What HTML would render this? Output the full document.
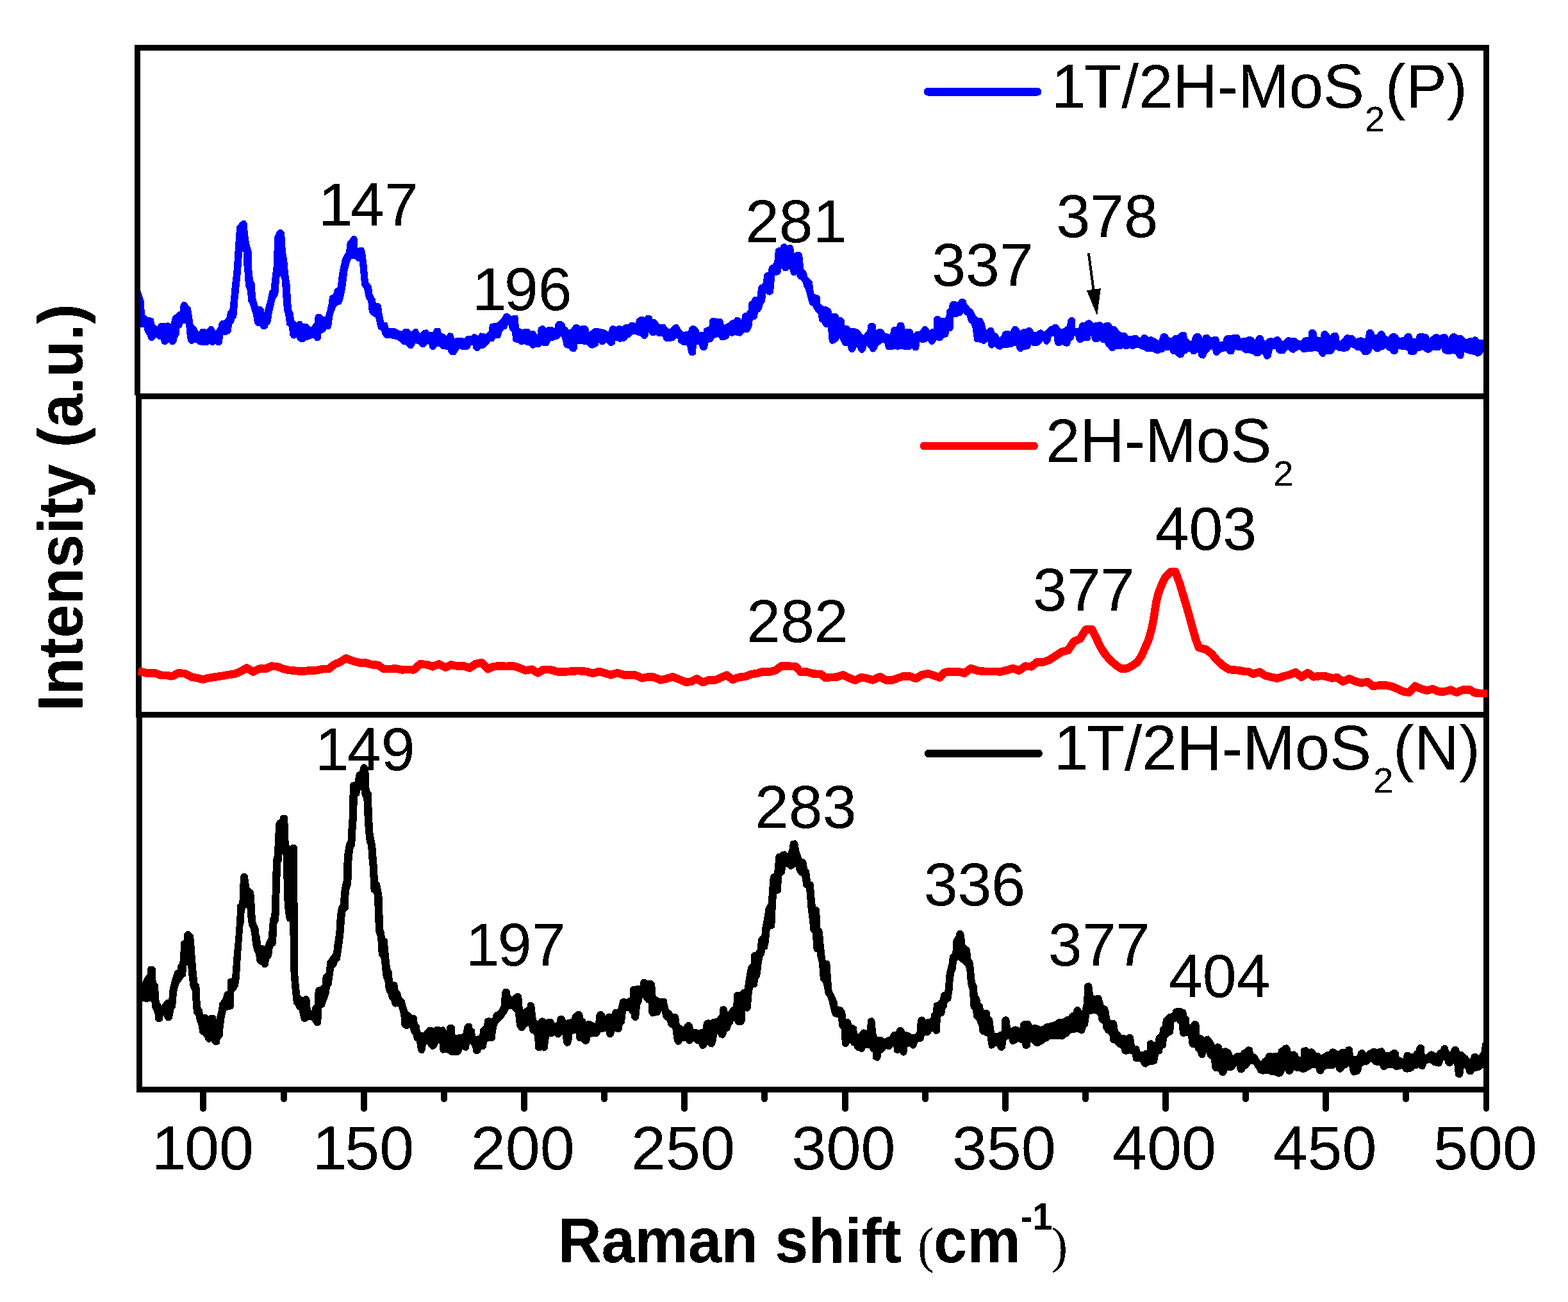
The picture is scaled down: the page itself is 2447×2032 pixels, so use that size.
<!DOCTYPE html>
<html lang="en"><head><meta charset="utf-8"><title>Raman spectra</title>
<style>
html,body{margin:0;padding:0;background:#fff;overflow:hidden;}
svg{display:block;}
text{font-family:"Liberation Sans",sans-serif;fill:#000;}
.b{font-weight:bold;}
.s{font-family:"Liberation Serif",serif;font-weight:normal;}
</style></head>
<body>
<svg width="2447" height="2032" viewBox="0 0 2447 2032">
<defs><filter id="crisp" x="0" y="0" width="2447" height="2032" filterUnits="userSpaceOnUse" color-interpolation-filters="sRGB"><feComponentTransfer><feFuncA type="discrete" tableValues="0 0 1 1 1"/></feComponentTransfer></filter></defs>
<rect x="0" y="0" width="2447" height="2032" fill="#fff"/>
<g stroke="none" shape-rendering="crispEdges">
<polygon fill="#0000ff" points="218.7,453.3 219.2,453.3 222.5,463.3 225,470 225.8,490 230.8,495 234.2,495 240,497.5 240.8,505 245,509.2 249.2,504.2 257.5,504.2 262.5,503.3 266.7,505 269.2,494.2 273.3,490.8 277.5,486.7 280.8,485.8 281.7,475 285,470.8 290,470.8 294.2,476.7 297.5,480 299.2,488.3 301.7,506.7 306.7,511.7 310,518.3 313.3,512.5 320,512.5 322.5,514.2 326.7,509.2 331.7,509.2 335,513.3 336.7,515.8 340.8,510 341.7,503.3 345.8,500 350,500 353.3,496.7 355,486.7 358.3,482.5 360,466.7 361.7,446.7 364.2,426.7 365.8,403.3 367.5,376.7 369.2,353.3 375,346.7 378.3,344.2 382.5,344.2 385.8,348.3 386.7,363.3 389.2,380 392.5,391.7 393.3,420 395,436.7 397.5,441.7 399.2,465 402.5,476.7 403.3,478.3 408.3,478.3 411.7,482.5 412.5,486.7 415,476.7 417.5,468.3 420,455 422.5,451.7 425,428.3 427,413.3 427.5,391.7 428.3,370 431.7,361.7 435,358.3 440,358.3 443.7,361.7 445,375 445.8,391.7 448.3,406.7 450,426.7 452.5,443.3 454.2,470 455,482.5 457.5,488.3 459.2,500 462.5,503.3 465.8,500.8 470,500.8 473.3,505 480,505 483.3,509.2 485.8,510 490.8,503.3 491.7,493.3 495,490 500,490 504.2,494.2 507.5,494.2 510.8,482.5 512.5,475 514.2,461.7 520,459.2 521.7,451.7 526.7,448.3 529.2,426.7 533.3,406.7 535.8,400 540,393.3 541.7,378.3 545.8,373.3 550,367.5 554.2,367.5 557.5,371.7 558.3,386.7 564.2,385.8 567.5,386.7 570,393.3 572.5,413.3 575,440 580,446.7 581.7,460 585.8,466.7 586.7,472.5 591.7,472.5 595,476.7 596.7,490 599.2,502.5 604.2,503.3 606.7,511.7 615,511.7 621.7,515 626.7,516.7 631.7,512.5 636.7,512.5 641.7,517.5 645.8,513.3 651.7,513.3 655,520 660,515 666.7,514.2 670,518.3 675.8,518.3 678.3,511.7 686.7,511.7 689.2,520 694.2,521.7 696.7,524.2 700,519.2 706.7,520 709.2,528.3 713.3,526.7 721.7,526.7 724.2,528.3 728.3,524.2 735,524.2 738.3,520.8 742.5,521.7 745.8,524.2 749.2,519.2 755,520 758.3,521.7 762.5,516.7 764.2,505.8 770,504.2 776.7,503.3 781.7,498.3 786.7,490 791.7,488.3 798.3,493.3 800.8,491.7 808.3,492.5 810,511.7 815,514.2 819.2,512.5 825,512.5 827.5,515.8 833.3,515.8 836.7,519.2 838.7,522.5 839.7,511.7 844.2,508.3 848.3,508.3 852.5,511.7 855,510 862.5,510 865.3,512.5 866.7,505 870.8,500.8 875.8,500.8 880.8,504.2 882.5,509.2 885.8,511.7 888.3,515 891.7,512.5 895,507.5 898.3,505.8 901.7,506.3 905.8,508.8 910,508 915,508.3 918.3,511.7 919.2,518.3 923.3,515 927.5,512 933.3,512 937.5,513.3 943.3,513.8 947.5,516.7 950,517 950.8,511.7 955,508 959.2,508.3 961.7,510 964.2,508 968.3,508 970.8,509.2 975,506.3 980.8,505.8 984.2,502.8 989.2,502.8 991.7,504.2 993.3,498.3 998.3,494.2 1004.2,494.2 1005.8,495.3 1009.2,491.7 1014.2,491.7 1017.5,494.2 1018.3,498 1022.5,498 1026.7,501.7 1028.3,505.3 1031.7,506.3 1037.5,506.3 1040.8,510 1043.3,513 1045.8,512.5 1050,508.3 1053.3,506.3 1057.5,506.3 1060.8,510 1062,513.7 1066.7,518 1070.8,517 1074.2,517 1075.3,511.7 1079.2,508 1083.3,508 1087.5,510.8 1090.8,515 1091.3,518 1097.5,518 1098.3,513.3 1101.7,510.8 1106.3,510 1107.5,499.2 1110.8,495.8 1115.8,495.8 1118.7,497.5 1120.8,496.7 1125.8,497.5 1128.7,500.8 1130,507.5 1133.3,505 1137.5,503.3 1140.8,499.7 1145,499.2 1147.5,495.3 1152.5,494.7 1155.8,497.5 1157,500.8 1158,491.3 1161.7,488 1164.2,488 1167.5,484.2 1168,473.3 1170.8,469.7 1173,469.2 1174.2,465 1176.3,463.3 1181.7,463 1183,448.3 1185.8,444.7 1190,443 1191.3,436.7 1192.5,428.3 1195,425.3 1198.3,425 1199.7,417.5 1202,413.7 1205.3,413 1208.3,409.2 1209.2,395 1210.8,388.3 1214.2,386.3 1217.5,385.8 1219.2,381.7 1222.5,380 1225.3,380.3 1228.7,383 1230.8,382 1235.8,382.5 1238.3,385.8 1239.2,394.7 1242.5,393.3 1249.2,393.3 1252,396.7 1253.3,408.3 1254.2,420 1257.5,423 1259.7,428.3 1260.3,431.7 1267.5,438.7 1268.7,446.7 1270.3,458.3 1273.3,459.7 1277,460 1279.7,463.3 1280.3,473.3 1282,475.8 1285,477.5 1290,478.3 1295.8,481.3 1297.5,485 1298.3,489.2 1305.8,489.2 1308.3,491.7 1309.2,495 1314.2,495.3 1317.5,498.7 1318.7,508.3 1321.7,508 1324.2,508.3 1327.5,511.7 1333.3,512 1340,514.2 1343.3,517.5 1345,520.8 1348,523.3 1350,519.2 1353.3,516.7 1354.2,507.5 1357.5,504.2 1363.3,504.2 1366.7,507.5 1367.5,515 1370.8,513.3 1375.8,513 1379.2,515.8 1381.7,520 1386.7,520.8 1389.2,522.5 1390,514.2 1393.3,510.3 1399.2,510 1400,505.3 1403.3,502.5 1407.5,502.5 1411.3,506.3 1412,513 1421.7,513 1424.7,516.3 1425,520.8 1429.2,517.5 1434.2,517 1437,515 1438.3,511.7 1441.7,509.2 1445.8,509.2 1449.2,512.5 1450.8,515.8 1453.3,513.3 1456.7,512.5 1457.5,495.8 1460.8,492.5 1465.3,492.5 1468.7,495.8 1474.2,495.8 1476.3,495 1477,484.2 1480.8,480.8 1482,473.3 1485,470 1490.8,470 1494.2,471.3 1497.5,467.5 1500.8,465.8 1504.2,466.3 1507.5,469.2 1508.7,474.2 1514.2,480.3 1516.7,482 1519.2,485 1521.7,490.8 1524.2,493.7 1526.7,495.8 1530.8,495.8 1533.7,498.3 1536.7,504.2 1538.3,511.7 1539.2,515 1543,511.3 1547.5,510.8 1550.8,513 1552.5,519.2 1555.8,520 1558.3,523.3 1560,526.7 1562.5,524.2 1565,518 1568.3,516.3 1573.3,516.3 1577,516.7 1578.7,512.5 1581.7,509.2 1586.7,509.2 1590,512 1592,515.8 1596.7,513.3 1600.8,513 1604.2,510.8 1608.3,510.8 1611.3,513.7 1613,517.5 1618.3,517.5 1621.7,514.7 1625,514.2 1628.7,516.7 1630.8,516.7 1636.7,510.3 1639.2,508.7 1642.5,508.3 1645,505.8 1649.2,505.8 1652.5,509.2 1655,512.5 1657.5,513.3 1661.7,510.8 1665,508.3 1666.3,499.2 1669.7,495.3 1674.7,495.3 1677.5,498.3 1678.3,511.7 1683.3,511.7 1684.2,506.3 1687.5,503 1693,502.5 1695.8,499.7 1700.8,499.2 1704.2,501.7 1706.3,504.2 1710,502.5 1714.2,502.5 1717.5,502 1720.8,504.2 1722.5,505.3 1725.8,502.5 1730.8,502.5 1734.2,505.3 1735.8,508.7 1740.8,509.2 1744.2,512.5 1745.8,515.8 1749.2,518.3 1750.8,519.2 1756.7,519.2 1760,522.5 1760.8,524.2 1765.8,524.2 1770,522.5 1774.2,522.5 1777.5,525.8 1780,526.7 1782.5,522.5 1786.7,521.7 1790.8,524.2 1792.5,525.8 1797.5,525 1801.7,527.5 1805.8,529.7 1808.3,532 1810.3,525.8 1811.3,522.5 1814.2,520.3 1819.2,520.3 1822.5,523.3 1825,526.7 1829.2,526.7 1832.5,523.3 1838.3,522.5 1841.3,519.2 1845,517.5 1849.2,517.5 1851.7,520 1853,527.5 1856.7,531.7 1859.2,531.7 1861.3,525 1863.3,521.7 1866.7,520.3 1871.7,520.3 1875,523.3 1876.3,527.5 1877.5,524.2 1880.8,521.7 1885,521.7 1888.3,524.7 1890,526.7 1894.2,525 1899.2,525 1902,527.5 1903.3,532.5 1908.3,532.5 1910.3,525.8 1914.2,523.3 1919.2,523.3 1922.5,522.5 1925.8,521.7 1931.7,521.7 1935,524.7 1936.3,528.3 1940,526.7 1945,526.7 1948.3,525 1952.5,525 1956.7,527.5 1958.3,530.8 1960.3,525.8 1963.3,523 1968.3,523 1971.7,525.8 1973,530.8 1975,532 1978.3,528.3 1983.3,526.7 1987.5,528 1990.8,525.3 1995.8,525.3 1999.2,528.3 2000.8,532 2003.3,531.7 2006.7,527.5 2009.2,526.3 2016.7,526.7 2022.5,527.5 2025,530 2030,531.7 2033.3,527.5 2036.7,526.3 2041.7,525.8 2042.5,517.5 2045.8,514.2 2050.8,514.2 2054.2,517.5 2055.8,525.8 2060.8,525.8 2061.7,519.2 2065,516.3 2070,516.3 2073.3,519.2 2075.8,523.7 2078.3,520 2081.7,519.2 2086.7,519.2 2089.2,522.5 2090.8,532.5 2095,528.3 2099.2,523.3 2102.5,522 2106.7,523 2111.7,523.3 2115,526.3 2116.7,529.2 2119.2,526.7 2124.2,526.3 2128.3,527.5 2130.3,528.3 2132.5,517.5 2135.8,514.2 2140.8,514.2 2144.2,517.5 2145,521.7 2149.2,521.7 2150.8,518.3 2154.2,516.3 2158.3,516.3 2161.7,520 2162.5,523.3 2166.7,525.8 2169.2,521.7 2172.5,520 2176.7,520 2180.8,522.5 2184.2,526.7 2190,526.3 2192.5,522.5 2195.8,520 2200,520 2203.3,523 2205,528 2209.7,528 2210.8,522.5 2214.2,520 2220,520 2223.3,520.8 2226.7,520.8 2229.7,524.2 2230.8,527.5 2235,524.2 2239.2,521.3 2243.3,521.3 2246.7,523 2251.7,521.3 2256.7,521.3 2259.7,524.2 2260.3,527.5 2263.3,522.5 2266.7,520 2270.8,520.3 2274.2,522.5 2281.7,523 2285.3,526.7 2288,529.7 2291.7,527.5 2298.3,526.7 2300.8,525.3 2305,525.8 2308.3,530 2315,530 2315,549.7 2313,552.5 2310,555.3 2305.8,556.7 2303.3,555.8 2300.8,553.7 2295,553.3 2290,551.7 2285.3,549.7 2284.2,556.7 2281.7,559.7 2275.8,559.7 2273,556.7 2272,552.5 2269.2,552.5 2265.8,551.7 2263.3,553.3 2257.5,553.3 2254.2,551.7 2250.8,549.7 2249.7,543.3 2248.3,545.8 2245,547.5 2239.2,547 2237.5,545.8 2235.3,547.5 2232.5,550.3 2227.5,550.8 2223.3,548.7 2220,546.3 2216.7,547.5 2212.5,547.5 2211.3,550.8 2208.3,553.7 2200,553.7 2197,551.7 2196.3,547 2192.5,546.3 2187.5,545.8 2182.5,545 2181.7,549.7 2179.2,552.5 2174.2,553 2171.3,552 2169.2,548.7 2167.5,548 2164.2,545.8 2162.5,543.3 2160.8,545.3 2155.8,546.3 2152.5,548.7 2149.2,549.7 2145.8,548.3 2143.7,545.8 2141.7,544.2 2140.8,547.5 2138.3,551.7 2134.2,553.7 2126.7,553.7 2124.2,550 2121.7,547.5 2116.3,547 2114.2,544.2 2108.3,542 2107,544.2 2104.2,547.5 2099.2,548.7 2089.2,548.3 2085.8,545.8 2083.3,546.3 2082,549.7 2078.3,552.5 2070,552.5 2066.7,556.7 2061.7,556.7 2058.3,553.3 2057,548.7 2053.3,548.3 2050,547.5 2047.5,549.2 2040,549.2 2037.5,550 2032.5,549.7 2029.2,546.7 2026.7,545.8 2022.5,548.3 2019.2,550.8 2015,550.3 2012.5,547.5 2010,545.8 2007.5,548.3 2004.2,552 2000.8,552.5 1998.3,551.7 1995,551.7 1992,549.2 1990.3,545 1986.3,545.3 1985,549.2 1983.7,557 1980.8,560.3 1975.3,560.8 1972,557.5 1970.8,552.5 1968.3,553.3 1965,556.3 1958,555.8 1955.8,553 1950.8,552 1948.3,550.8 1944.2,551.7 1940.8,550 1938.3,547.5 1931.7,547 1927.5,545.8 1926.3,550 1924.2,553 1918.3,553.3 1915.8,551.7 1914.2,549.2 1912.5,547.5 1910,549.2 1905.3,549.7 1904.2,551.7 1900.8,554.7 1895.8,554.7 1893,551.7 1892,545.3 1888.7,545.8 1887.5,548 1883.3,552.5 1882,556.7 1879.2,559.7 1873.3,559.2 1870.3,555.8 1869.7,550.8 1868.3,550 1865.8,552.5 1862.5,553.3 1859.2,552.5 1857.5,550 1855.8,548.3 1852.5,551.3 1848.7,552.5 1848,555 1845,558 1840.8,558.7 1837.5,556.7 1834.2,553.3 1830,553.3 1827,550.8 1825.3,546.7 1818.3,546.7 1815.8,549.7 1811.7,550 1808.3,551.7 1805,552 1801.7,550.8 1798.3,548.7 1788.3,548.7 1784.2,545.8 1779.2,545 1776.7,542.5 1774.2,542.5 1770.8,544.2 1767.5,545.3 1764.2,544.2 1762.5,543.3 1759.2,545.3 1755,545.3 1752.5,543.3 1750,545 1741.7,545 1738.3,547.5 1733.3,547.5 1730.8,545.8 1729.2,542.5 1725.8,540 1723.3,535 1718.7,534.7 1716.7,532 1713.3,534.2 1707.5,534.2 1704.2,530.3 1702.5,523.7 1701.7,529.2 1700,532 1690.8,532.5 1687.5,535.3 1683.3,535.3 1680,532 1678.7,525.8 1677,523.3 1675.3,529.7 1671.3,532.5 1670.3,537.5 1668.3,540 1664.2,540.8 1660,540 1658,538 1655,539.7 1649.2,539.7 1645.8,535.8 1644.7,525 1640.8,525 1640,530.3 1638.3,534.7 1635,537.5 1632,537.5 1629.2,535.8 1627.5,531.7 1625.8,535 1623.3,537.5 1618.3,540.3 1611.7,540.3 1609.2,538 1608,542.5 1605.8,545.3 1597.5,545.8 1595,548.7 1590,548.7 1586.7,545 1585.8,540 1582.5,539.7 1580,541.7 1575,541.7 1573.3,543 1565,543.3 1561.7,545.8 1556.7,545.3 1554.2,542.5 1551.7,541.3 1549.2,543.7 1545,543.3 1542,539.2 1541.3,531.7 1540,534.2 1536.7,537 1533.3,537 1530.8,534.7 1523,534.2 1520.3,531.7 1519.2,523.3 1517.5,511.7 1515.8,506.3 1512,503.3 1510.3,499.2 1508.7,493.3 1505,490.8 1503.3,487.5 1502.5,490 1500,493 1496.7,493 1493.3,494.7 1488.3,495.3 1487.5,513.3 1485.3,516.7 1481.3,517.5 1480.3,522.5 1478.3,526.3 1473.3,526.7 1472,528.7 1470,531.3 1465.8,532 1461.3,531.3 1459.2,535 1455.8,538 1452.5,538 1449.7,535.8 1448,531.7 1445,534.2 1440.8,535 1435.3,534.2 1434.2,544.2 1431.7,547 1425.8,547 1423.3,543.3 1420.8,545.8 1410.8,545.8 1408,544.7 1405,545.3 1400,545.8 1395.8,544.7 1391.7,546.3 1384.2,546.3 1382,543.3 1380,535 1376.7,535 1373.3,538 1370,540 1368.7,545 1365,549.2 1360.8,549.7 1358.3,547.5 1355.8,543.3 1352.5,540.3 1350.8,547 1346.7,550.8 1343,550.8 1340,548 1338.3,543.3 1336.3,541.7 1335,546.7 1331.7,549.7 1327,549.7 1323.7,545.8 1323,540.3 1318.3,540 1315,538.3 1312,532.5 1310.3,527.5 1308.3,531.7 1305.8,533.3 1302.5,536.3 1297.5,536.7 1293.7,533.3 1293,521.7 1291.7,510.8 1287.5,510.8 1284.2,507.5 1283,504.2 1280.8,503 1278,500 1276.7,489.7 1273.3,486.7 1270,482.5 1268.7,478.3 1266.7,477.5 1263.7,475.8 1261.3,468.7 1259.2,460 1256.7,450.8 1254.2,447.5 1253,441.7 1249.7,436.7 1246.7,435.8 1243.7,432 1243,426.7 1241.7,430.3 1236.7,430 1233.7,426.7 1233,420.8 1231.7,420.3 1228.3,423 1222.5,422.5 1219.2,418.7 1218.7,425.3 1215,429.2 1209.2,430 1208,446.7 1206.7,457.5 1202,460.8 1198.3,460.3 1195,457.5 1194.7,465 1193.3,472 1190.3,475.8 1189.2,482 1185.8,486.7 1183,488.3 1181.7,495.8 1179.2,498.7 1174.7,499.2 1173.7,508.3 1171.3,515 1168.3,518.7 1160.8,519.2 1158.7,522.5 1155.8,524.7 1150,524.2 1148,522.5 1143.3,524.7 1138.3,524.2 1137,528 1134.2,529.2 1130,531.3 1125,531.3 1122.5,528.3 1120.3,525.3 1118.3,526.7 1114.2,528 1113,531.3 1110,534.2 1105,534.7 1104.2,543.3 1100.8,546.7 1095,546.7 1092,543.3 1090.8,537.5 1087,537.5 1085.8,552.5 1083.3,554.7 1077.5,554.7 1075,552.5 1073.3,546.7 1072,539.2 1066.7,539.2 1063.3,538 1058.3,533.7 1057.5,528.7 1055,528 1051.7,531.7 1045,533 1039.2,533 1035.3,530.3 1034.2,525.3 1026.7,524.7 1023.3,522.5 1021.7,523.7 1016.7,523.7 1014.2,521.7 1012,518.7 1011.3,525.8 1007.5,528.7 1003.3,528.7 1000.8,526.7 999.2,524.2 993.3,523.3 991.7,521.7 987.5,521.7 985.8,523.3 983.3,526.7 980,526.7 978.3,530.3 973.3,533.3 965.8,533.7 964.2,532.5 960.3,531.7 959.7,536.7 955.8,539.7 951.7,540 949.2,538 946.7,535 945,535.3 941.7,538.3 937.5,538.3 934.2,535 933.7,538.3 931.7,540.8 925,543.7 920.8,543.3 917.5,540 915,538 910.8,538 908.3,536.7 901.3,537.5 900.8,545 897.5,548.7 892.5,549.2 889.2,546.7 887.5,543.7 883.3,543.3 880,540.8 878.7,535 877,528.3 875.3,524.7 871.7,529.2 866.7,530.3 863.3,531.7 859.2,532.5 857,536.7 855,540.3 848.3,540.3 845.8,539.2 842.5,542.2 835,542.5 831.7,544.2 828.3,542.5 826.7,539.7 821.7,539.2 818.3,536.7 816.7,538.3 811.7,538.3 808.3,535 803.3,534.2 800,531.7 799.2,519.2 795,514.2 793.3,507.5 792.5,508.3 790.8,513.3 786.7,514.2 783.3,518.3 782.5,522.5 780,527.5 773.3,528.3 770,533.3 765,533.3 762.5,537.5 756.7,543.3 750.8,544.2 746.7,547.5 742.5,547.5 738.3,544.2 737.5,539.2 735,539.2 733.3,543.3 730,545.8 720.8,545.8 717.5,544.2 715,547.5 710.8,554.2 703.3,554.2 700,550.8 698.3,545.8 689.2,545 685.8,540.8 681.7,540.8 678.3,545.8 673.3,545.8 670,542.5 669.2,536.7 666.7,537.5 663.3,541.7 656.7,541.7 653.3,537.5 648.3,535.8 646.7,540 643.3,544.2 638.3,544.2 633.3,538.3 628.3,537.5 624.2,533.3 619.2,530 614.2,529.2 610,528.3 601.7,528.3 596.7,522.5 595,515.8 590,513.3 585.8,495 583.3,494.2 579.2,491.7 575.8,486.7 574.2,470 570.8,465 568.3,451.7 564.2,445 562.5,426.7 560.8,408.3 557.5,407.5 553.3,404.2 548.3,404.2 545.8,410 542.5,423.3 540.8,436.7 539.2,450 535.8,466.7 532.5,475 528.3,475.8 524.2,479.2 522.5,484.2 520,490 518.7,499.2 517,510 515,513.7 509.7,514.2 506.7,518.3 504.2,519.2 501.3,520.8 500.8,528.3 497.5,532 492.5,532 490,528.3 485.8,528.3 483.3,530.3 477.5,530.8 475,534.2 468.3,534.2 464.2,530.3 462.5,526.7 460,528.7 455.8,528.3 452.5,524.2 450.8,510.8 447.5,507.5 445,490 443,484.2 441.7,468.3 440.8,451.7 439.7,436.7 438,430.8 436.7,430.8 435.3,445 434.7,455.8 433.3,461.7 429.7,466.7 427.5,476.7 425,486.7 423.3,498.3 422,504.2 418.7,507.5 417.5,511.7 414.2,514.2 410,514.2 407.5,512.5 405.8,509.2 400,508.3 397,504.2 395,491.7 393.3,486.7 390,475 387.5,470.8 385.8,453.3 383,446.7 382,430 380.3,413.3 379.7,393.3 378.3,393.3 377,410 375.8,426.7 373.7,446.7 371.7,465 370.3,483.3 369.2,495 365.8,499.2 365,503.3 362,506.7 360.8,517.5 358.3,520.8 355,521.7 353.3,523.3 348,523.3 347,535 344.2,538.7 338.3,538.7 335.8,536.7 333.3,538.7 329.2,538.7 326.7,536.7 325,538.7 313.3,538.7 309.2,537.5 306.7,535.3 302.5,535.3 300.8,536.7 296.7,536.7 293,532.5 291.3,520 290,505.3 285,505.3 284.2,510 280,513.3 279.7,522.5 276.7,526.7 275,535 271.7,538.3 266.7,538.3 264.2,535 262.5,535 259.2,538.3 255.8,538.3 252.5,535.8 250.8,530.3 247.5,530.3 244.2,526.7 242.5,528.3 238.3,531.7 234.2,531.7 230.8,528.3 230,523.3 225.8,518.3 225,510.8 219.2,510.8 218.7,510.8"/>
</g>
<g fill="#000" shape-rendering="crispEdges">
<rect x="210" y="70" width="2114" height="9"/>
<rect x="210" y="70" width="9" height="547"/>
<rect x="212" y="614" width="2112" height="9"/>
<rect x="212" y="614" width="9" height="506"/>
<rect x="213" y="1111" width="2111" height="9"/>
<rect x="213" y="1111" width="9" height="594"/>
<rect x="213" y="1696" width="2111" height="9"/>
<rect x="2315" y="70" width="9" height="1635"/>
</g>
<g stroke="none" shape-rendering="crispEdges">
<polyline fill="none" stroke="#ff0000" stroke-width="12.6" stroke-linejoin="round" stroke-linecap="butt" points="215.8,1047.5 221.7,1048.7 230,1050.8 238.3,1050.3 243.3,1050.8 250,1053.7 261.7,1054.2 266.7,1055.3 270,1055 278.3,1050.3 288.3,1051.3 298.3,1056.3 306.7,1058 316.7,1060.3 326.7,1058 336.7,1056.3 346.7,1055 356.7,1053 366.7,1051.7 375,1048 385,1042.5 395,1048.7 405,1043.7 415,1043.7 423.3,1039.7 431.7,1040 441.7,1043.7 450,1045.8 460,1046.7 466.7,1047.5 475,1047.5 483.3,1046.3 493.3,1046.3 503.3,1044.2 513.3,1043.7 521.7,1037 530,1033.7 540,1027.5 550,1031.3 560,1034.2 570,1034.2 578.3,1037 590,1038 598.3,1043.7 608.3,1044.2 616.7,1043.3 626.7,1045.3 636.7,1045 645.8,1045.3 655.8,1036.3 666.7,1037.5 675,1040.3 685,1036.3 695,1041.7 704.2,1037.5 713.3,1039.7 723.3,1039.2 733.3,1042.5 741.7,1036.3 751.7,1034.2 761.7,1044.2 770,1040.3 780,1039.2 790,1040 800,1039.2 810,1042 820,1046.3 830,1044.7 839.2,1050.3 848.3,1045 858.3,1045 870,1048.3 883.3,1048.3 893.3,1047.5 903.3,1047 915,1048 925,1050.8 935,1048 945,1050.8 953.3,1053.3 963.3,1050.3 975,1053.7 991.7,1053.7 1001.7,1058.3 1011.7,1056.3 1020,1056.7 1030.8,1061.3 1040,1059.2 1050,1056.3 1060,1060.3 1070.8,1064.7 1078.3,1063.7 1087.5,1059.2 1096.7,1065 1106.7,1061.3 1116.7,1061.3 1125,1057.5 1134.2,1053.7 1143.3,1060.8 1153.3,1057 1163.3,1055.8 1171.7,1052.5 1181.7,1050.8 1190,1048.3 1200,1048.7 1210,1046.3 1220,1039.2 1231.7,1039.7 1241.7,1040.3 1250,1049.2 1258.3,1048.3 1270,1051.7 1280.8,1052 1288.3,1058 1296.7,1057 1305,1056.7 1315.8,1053.3 1325,1058 1334.2,1061.7 1344.2,1057 1353.3,1058.7 1361.7,1061.3 1373.3,1056.3 1383.3,1061.7 1391.7,1061.7 1400,1058.7 1410,1055.3 1420,1055.3 1429.2,1059.2 1438.3,1053.3 1448.3,1051.3 1456.7,1054.2 1466.7,1057.5 1473.3,1050 1480,1048.3 1496.7,1048.3 1505,1050.8 1515,1043 1526.7,1047 1538.3,1048 1550,1048 1561.7,1048.3 1571.7,1045.8 1580.8,1043 1590,1046.7 1600,1039.7 1610,1040.3 1618.3,1033.3 1628.3,1033.3 1637.5,1030 1648.3,1023 1657.5,1017 1666.7,1015 1675.8,1001.3 1685.8,996.7 1691.7,986.7 1695,982.3 1704.2,982.3 1710,994.2 1717.5,1010 1725,1021.7 1733.3,1030.8 1741.7,1038.3 1750,1043.7 1758.3,1043.3 1766.7,1039.2 1775,1033.3 1781.7,1023.3 1786.7,1011.7 1792.5,998.3 1796.7,983.3 1800,968.3 1802.5,951.7 1805,936.7 1808.3,924.2 1813.3,911.7 1819.2,900 1826.7,892.5 1834.2,892 1840.8,910 1845.8,926.7 1850.8,943.3 1855.8,960.8 1860.8,979.2 1865.8,996.7 1870.8,1010.8 1881.7,1013.3 1890.8,1020.3 1899.2,1030.3 1908.3,1038.7 1918.3,1045 1931.7,1046 1941.7,1047.8 1948.3,1048.3 1955.8,1051.8 1965.8,1048.7 1974.2,1054.2 1982.5,1056.3 1993.7,1058.8 2003.3,1055.3 2013.3,1052.8 2021.7,1049.2 2030.8,1056.7 2040.8,1050.3 2050,1056.3 2060,1055 2068.3,1055.3 2078.3,1058.3 2086.7,1057.5 2095.8,1063.7 2105.8,1059.2 2115,1063.3 2124.2,1065.8 2134.2,1064.2 2142.5,1070.8 2151.7,1069.7 2161.7,1069.2 2171.7,1071.3 2180.8,1075 2190,1079.2 2199.2,1080.8 2208.3,1070.8 2218.3,1075.3 2226.7,1077.5 2235.8,1075.3 2245,1079.2 2255,1079.2 2264.2,1076.7 2273.3,1080.8 2283.3,1076.3 2293.3,1076.3 2301.7,1081.3 2310,1082 2321,1082"/>
<polygon fill="#000000" points="213.3,1535 221.7,1535 225,1526.7 230,1520 230.3,1510.8 233.3,1507.5 239.2,1507.5 242.5,1511.3 243.7,1533.3 246.7,1535.8 248.7,1563.3 252.5,1569.2 255.8,1563.3 259.2,1560 263.3,1560 264.7,1543.3 268.3,1528.3 272.5,1516.3 276.7,1512.5 277.5,1506.7 280.3,1503.3 282.5,1470 286.7,1466.7 287.5,1456.7 290.8,1453.3 295.8,1453.3 302,1460 303.3,1473.3 304.7,1493.3 306.7,1516.7 308.3,1533.3 311.3,1536.7 313,1571.7 315.8,1575.8 317,1582.5 323.3,1583.3 325.8,1586.3 327.5,1584.2 334.2,1584.2 337,1586.7 337.5,1590 340.8,1576.7 342.5,1565 346.7,1560 350,1550 352,1547.5 354.7,1546.7 355.3,1529.2 358,1526.7 361.3,1526.7 362.5,1520 365,1486.7 366.7,1470 367.5,1460 368.7,1443.3 369.7,1426.7 370.3,1412.5 373.3,1409.2 374.2,1393.3 374.7,1370 375.8,1365.8 378.3,1363.3 383.3,1363.3 386.7,1366.7 388,1375 389.2,1384.2 391.7,1387.5 395.3,1390 396.7,1396.7 397.5,1410 398.3,1425 399.2,1438.3 400.8,1443.3 403.3,1446.7 404.7,1460 405.3,1460 407.5,1475 413.7,1475.8 415.3,1470 418.7,1463.3 420,1446.7 421.3,1433.3 423.3,1430 424.2,1406.7 425.3,1373.3 425.8,1343.3 428,1333.3 428.7,1316.7 429.7,1296.7 430.3,1285 432.5,1280.8 436.7,1278.3 437.5,1274.2 440,1272 446.7,1272 449.2,1275 450,1300 450.8,1319.2 453.3,1319.7 455.8,1318 460,1318 463.7,1321.7 464.2,1346.7 464.2,1406.7 465,1413.3 465,1460 465.3,1520 466.7,1536.7 468.3,1553.3 470.8,1555.8 473.3,1556.7 475,1554.2 480,1554.2 483.3,1557.5 484.2,1570 485.3,1575.8 486.7,1576.7 487.5,1571.7 490.8,1567.5 491.7,1545 494.2,1540.8 500,1540 500,1540 502.5,1536.7 503.7,1523.3 506.3,1520 508.7,1518.3 510.3,1500 513.3,1496.7 516.7,1491.7 520,1487.5 521.3,1475 523.3,1463.3 524.7,1450 525.3,1436.7 526.7,1423.3 528.3,1415 530.8,1411.7 532,1393.3 534.2,1380 535.8,1374.2 536.3,1350 537,1335 539.2,1321.7 540.8,1315 542.5,1312.5 543.7,1290 544.7,1276.7 545.3,1245 546.3,1224.2 548.7,1220.8 553.7,1220 555,1210 556.7,1205 560.8,1204.2 562.5,1196.7 565,1193 568.3,1192 572.5,1194.2 575.3,1198.3 575.8,1216.7 576.7,1233.3 579.7,1237.5 580.3,1255 581.3,1280 582.5,1300 584.2,1310 586.3,1319.2 587,1331.7 588.3,1345 589.2,1360 590,1375.8 592.5,1378.3 594.2,1385 595.8,1393.3 596.7,1400 597,1413.3 597.5,1428.3 598,1450 600,1455 600.8,1463.3 604.7,1465.8 605.8,1480 607.5,1496.7 609.2,1511.7 611.7,1515.8 613,1531.7 617.5,1532.5 620.3,1535 621.3,1544.2 625,1548.3 626.7,1555.8 631.7,1561.7 633.3,1568.3 635.3,1575 637,1579.2 640.8,1580.8 643.3,1584.2 647.5,1584.2 650.8,1587.5 651.7,1596.7 654.7,1600 655.8,1610 658.3,1611.3 661.3,1610.8 665,1606.3 668.3,1602.5 673.3,1602.5 676.7,1604.2 680,1602 685,1602 687.5,1603.3 690.8,1602 694.2,1603.3 695.8,1606.7 697,1609.2 697.5,1602 700.8,1599.2 706.7,1599.2 709.7,1602 710.3,1614.2 713.3,1615 716.7,1614.2 720.8,1614.2 722.5,1611.7 724.2,1603.3 725.8,1599.2 729.2,1597 734.2,1597 736.7,1599.7 737.5,1604.2 740.8,1606.7 742,1616.7 745,1616.7 748.3,1615.3 749.2,1606.7 752.5,1603 755,1600.3 756.3,1591.7 759.2,1588.7 764.2,1588 766.7,1589.2 768.7,1587.5 770,1582.5 773.3,1579.2 776.7,1578.3 778.7,1575.8 781.7,1569.2 782.5,1556.7 783.7,1546.7 786.3,1543.3 792.5,1543.3 795.8,1546.7 796.7,1553.3 799.2,1555 802.5,1552.5 805.8,1550 810.3,1550 814.2,1553.3 815,1565 815.8,1575 818.7,1574.2 822.5,1570.8 823,1566.7 825,1564.2 830.8,1564.2 834.2,1567.5 835.3,1578.3 837,1591.7 839.2,1593.3 841.7,1590 845.8,1588.3 849.7,1589.2 852.5,1591.3 855,1589.7 860.8,1589.7 863.7,1592.5 865.8,1596.3 868.7,1595 870,1587.5 873.3,1585.3 878.3,1585.3 881.7,1588.3 883,1592 886.7,1590.8 892,1590 893,1584.2 895.8,1581.3 900.8,1578.3 905.8,1578.3 909.2,1581.3 910,1588.3 913.3,1590.8 914.7,1594.2 917.5,1592.5 921.7,1593.3 925.3,1595 929.2,1597 930.3,1584.2 932.5,1579.7 935.8,1578.3 940.3,1578.3 943,1581.3 944.7,1585 947.5,1582 950.8,1581.3 954.7,1582.5 955.8,1577.5 959.2,1574.7 964.2,1574.7 965.3,1570 967.5,1560.8 970.8,1558.3 975.8,1558.3 978,1559.2 980,1557.5 982.5,1557 983.3,1541.7 986.7,1538.7 991.7,1538.7 994.2,1537.5 998.7,1537.5 999.7,1531.3 1002.5,1528.3 1007.5,1528.3 1010.8,1530.3 1017.5,1530.3 1021.3,1533.3 1022.5,1540 1023.7,1555 1027.5,1557 1030.3,1558.3 1033,1557.5 1037.5,1557.5 1040.8,1560.8 1041.7,1566.7 1043.7,1575 1047.5,1577.5 1050.3,1582 1055.8,1582.5 1059.2,1585.8 1060.3,1596.7 1062,1599.7 1066.3,1602 1068.7,1598.3 1072.5,1595.3 1077,1595.3 1080.8,1599.2 1082,1605.8 1087.5,1606.3 1090.8,1607 1096.3,1605.8 1098.3,1595 1101.3,1591.7 1107,1591.3 1109.2,1592.5 1112,1590 1118,1589.2 1122.5,1584.2 1123.7,1572.5 1125,1570.8 1129.2,1570 1132.5,1570.8 1135,1574.2 1135.8,1580 1138.3,1575.8 1140.8,1572.5 1143.7,1570.8 1144.7,1563.3 1145.3,1551.7 1148.3,1548.3 1154.7,1548.3 1157.5,1544.7 1161.7,1543.3 1163,1533.3 1164.7,1523.3 1166.3,1513.3 1168.3,1506.7 1171.7,1504.2 1172.5,1489.2 1175,1486.3 1178.7,1485.8 1181.7,1481.7 1183,1465.8 1185.3,1462.5 1188.3,1460 1189.7,1445 1191.3,1438.3 1193,1428.3 1194.7,1416.7 1196.7,1413.3 1198.7,1410 1199.7,1395 1200.8,1380 1201.7,1368.3 1204.2,1364.2 1208,1363 1209.2,1351.7 1210.3,1335.8 1213.3,1332.5 1216.7,1331.7 1220,1328.7 1225.3,1328.3 1229.2,1331.7 1231.7,1324.2 1233,1315 1235.8,1311.7 1241.7,1311.3 1245.3,1315 1246.3,1322.5 1248.3,1330.8 1251.3,1339.7 1255,1340.8 1258,1343.3 1259.2,1350 1260.3,1355.3 1263,1358.3 1264.2,1368.3 1265,1375.3 1268.3,1376.7 1270,1380 1270.8,1393.3 1272,1406.7 1273,1414.7 1276.7,1415.8 1279.2,1418.3 1279.7,1433.3 1280.3,1447.5 1283,1450.8 1284.2,1456.7 1285.3,1471.7 1286.7,1483.3 1288.3,1498.3 1292.5,1499.2 1295.3,1501.7 1296.3,1516.7 1297.5,1532.5 1298.7,1546.7 1301.7,1551.7 1304.2,1557.5 1306.7,1563.3 1307.5,1570 1310.3,1570.8 1314.2,1572 1318.3,1576.7 1319.7,1582.5 1320.3,1590 1325,1590 1328,1593.3 1329.2,1599.2 1333.3,1599.7 1336.7,1602.5 1338,1613.3 1340.8,1612.5 1344.2,1607.5 1347,1606.3 1350.8,1606.7 1353.3,1608.3 1353.7,1591.7 1356.7,1588.7 1361.7,1588.3 1365.3,1591.7 1366.3,1601.7 1367.5,1613.3 1369.2,1617.5 1376.7,1618.3 1380.3,1620.8 1384.2,1618.7 1388.3,1617.5 1390.8,1612.5 1393.7,1610.3 1398.3,1609.7 1399.7,1605.3 1403,1603 1407.5,1603 1410.8,1606.3 1412,1610 1415.8,1610.3 1419.7,1612 1423.3,1614.2 1425,1614.2 1428.3,1613.3 1430.8,1610 1431.7,1593.3 1433.7,1588.3 1438,1586.3 1441.7,1587.5 1444.7,1590.8 1447,1590 1450.8,1590 1452.5,1588 1453,1582.5 1455.8,1579.2 1457,1566.7 1460,1564.2 1463,1563.7 1467,1559.7 1468.3,1551.3 1471.3,1548.3 1474.2,1548 1475.3,1536.7 1476.7,1518.3 1478.7,1511.7 1480.8,1503.3 1482,1491.7 1486.3,1487 1487.5,1468.3 1488.7,1464.7 1491.7,1460.8 1492.5,1455.8 1495.3,1452.5 1500.8,1452 1504.2,1455.3 1505.3,1463.3 1506.3,1473.3 1509.2,1476.7 1512,1478.7 1514.2,1481.7 1515,1495.8 1518.3,1500 1519.7,1510 1520.8,1521.7 1522,1533.3 1524.7,1538.3 1525.8,1553.3 1529.2,1557.5 1530.3,1565 1533.7,1568.3 1535,1575.8 1541.7,1576.3 1544.7,1579.2 1545.3,1585.8 1549.2,1590 1550.3,1600 1552,1611.7 1556.7,1612 1560.3,1610 1562.5,1609.7 1563.3,1591.7 1565.8,1587 1570,1585.8 1574.2,1588.3 1575.8,1593.3 1577,1604.2 1580.8,1602.5 1584.2,1601.3 1588.3,1602 1591.3,1604.7 1592.5,1596.7 1595.8,1593.7 1600.8,1592.5 1605.8,1592.5 1608.3,1595 1610.8,1599.7 1615,1599.2 1620,1599.7 1623.3,1602 1627.5,1600.8 1630,1598.7 1633.3,1596.7 1640,1596.3 1643,1594.7 1646.7,1593.7 1649.2,1590.8 1653.3,1590 1658,1590.3 1660.8,1588.3 1664.2,1586.3 1668,1585.8 1669.2,1582.5 1672.5,1580.3 1674.7,1579.7 1675.8,1574.2 1679.2,1571.3 1683.3,1571.3 1686.7,1574.2 1688.3,1577.5 1690.8,1566.7 1691.7,1551.7 1692.5,1537.5 1695,1534.2 1700,1533.3 1704.2,1536.7 1705.3,1546.7 1706.3,1552.5 1709.2,1554.2 1711.7,1552.5 1715.8,1552.5 1719.2,1555.3 1720.8,1561.7 1722.5,1568.3 1725,1569.2 1728.3,1571.3 1730.3,1576.7 1731.7,1586.7 1733,1592.5 1739.2,1592 1742.5,1595 1743.7,1599.2 1744.7,1608 1747.5,1610.8 1750,1614.7 1755.8,1615.3 1758,1616.7 1760,1614.2 1765.8,1614.2 1768.7,1616.7 1770,1625 1770.8,1632 1775,1632 1778,1635 1779.2,1640.8 1784.2,1640.8 1786.7,1639.2 1789.7,1638.7 1790.3,1626.7 1793,1623.7 1797.5,1623.3 1800.8,1625.8 1803,1626.7 1803.7,1617.5 1806.7,1614.7 1809.2,1613.3 1810.3,1604.7 1814.2,1600.3 1814.7,1590.8 1818,1587.5 1821.7,1583.3 1824.2,1581.7 1829.2,1581.3 1830.3,1576.7 1833.3,1573.7 1838.3,1573 1843.3,1573.3 1846.7,1575 1850,1575.8 1851.7,1580 1852.5,1585 1855.8,1588.3 1856.7,1600 1859.2,1596.7 1862.5,1593.3 1866.7,1593 1870.3,1595.8 1872,1600.8 1872.5,1615 1876.7,1615.8 1879.7,1619.2 1882,1617 1885.8,1616.3 1889.2,1619.2 1892.5,1624.2 1894.7,1627.5 1895.8,1630.8 1899.2,1628.3 1903.3,1628.7 1906.7,1631.7 1907.5,1635.8 1913.3,1635.3 1916.7,1636.7 1920.8,1639.2 1922.5,1643.3 1924.2,1647.5 1927,1644.2 1930.8,1642.5 1935.8,1642.5 1938.3,1639.2 1942,1637.5 1944.2,1635 1947.5,1633.3 1951.7,1633.7 1955,1636.7 1955.8,1643.3 1959.2,1645 1962.5,1648.3 1965,1652.5 1967.5,1656.3 1970.8,1652 1974.2,1650 1975.8,1645.3 1979.2,1642.5 1984.2,1642.5 1986.7,1643.7 1990,1642.5 1994.2,1642.5 1995.3,1637.5 1998.3,1635.3 2000.8,1634.2 2003.3,1631.3 2008.3,1630.3 2011.7,1632.5 2013.7,1635.8 2014.7,1640.8 2020,1640.3 2023.3,1642.5 2025,1643.3 2026.7,1648.7 2029.7,1648.7 2030.3,1637.5 2033.3,1634.7 2039.2,1634.2 2042.5,1636.7 2047.5,1636.3 2051.3,1638.3 2054.2,1642.5 2058.3,1643.3 2062,1646.3 2065.8,1644.2 2069.2,1641.7 2074.2,1640.8 2075.8,1637.5 2079.2,1636.3 2083,1636.7 2086.3,1639.2 2089.2,1640 2091.7,1637.5 2095.8,1637 2099.2,1637.5 2100.3,1634.2 2104.2,1633 2108.3,1633.3 2110.8,1636.3 2112,1648 2116.7,1648 2118.7,1645 2119.7,1640.8 2123.3,1638.3 2127.5,1638.3 2130.8,1641.7 2132,1643.3 2134.2,1639.7 2138.3,1638.3 2141.3,1636.3 2146.7,1636.3 2150,1637.5 2152,1635.8 2157.5,1635.3 2160.8,1638.3 2162,1642 2168.3,1642.5 2170.8,1640 2174.2,1638 2179.2,1638.3 2182.5,1641.7 2183.7,1649.2 2187.5,1650.8 2190,1651.7 2190.8,1644.2 2194.2,1642 2199.2,1642 2202.5,1644.2 2205.8,1643.7 2207,1640.8 2210,1638.7 2210.8,1633.3 2214.2,1630.3 2219.2,1630.3 2222.5,1633.3 2223.7,1645.8 2226.7,1645 2229.7,1641.7 2233.3,1640.3 2237.5,1640.8 2240,1643.7 2241.7,1642.5 2244.7,1639.2 2248,1637.5 2249.2,1633.7 2252.5,1631.3 2256.7,1631.3 2259.7,1634.7 2260.8,1639.2 2263.3,1642 2265,1636.3 2268.3,1633.3 2274.2,1633.3 2277,1636.3 2278,1641.3 2283.3,1641.3 2286.7,1645 2289.7,1647.5 2292.5,1650.8 2294.2,1653.3 2296.3,1646.3 2299.2,1644.2 2304.2,1644.2 2307.5,1646.7 2309.2,1645 2311.7,1640.8 2313.3,1628.3 2315,1625.8 2320,1625.8 2320,1666.7 2315,1666.7 2312,1668.3 2308.3,1671.3 2301.3,1671.7 2299.7,1675.3 2295.8,1677.5 2291.7,1677 2288.7,1674.2 2287,1668.7 2284.7,1666.7 2283.7,1675.8 2282,1680 2278.7,1682 2273.7,1681.3 2270.8,1678.3 2270,1664.2 2268.7,1660 2266.7,1662.5 2263,1664.7 2258.7,1663.7 2255.3,1659.7 2254.2,1655 2252,1654.7 2251.3,1660 2248.7,1663.7 2245,1664.7 2240.8,1663.7 2236.3,1662.5 2233.3,1660 2230.8,1659.2 2226.3,1660 2225,1664.2 2223.3,1668 2219.2,1669.2 2215.8,1668.3 2213.7,1666.3 2211.7,1667.5 2207.5,1668 2206.7,1670 2202.5,1672.5 2195.8,1673.7 2191.7,1673 2189.2,1670 2187.5,1668 2183.3,1669.2 2179.2,1670.3 2175.3,1668.7 2173.3,1666.3 2170.8,1667.5 2165.8,1667 2164.2,1668.7 2160.8,1670.3 2157,1669.7 2154.2,1666.7 2153,1662.5 2148.7,1663 2145,1662 2141.7,1659.2 2139.7,1657 2136.7,1660.3 2132.5,1662.5 2129.2,1662 2125.3,1665 2124.2,1671.7 2121.7,1675.8 2116.7,1677.5 2112.5,1678.7 2108.3,1676.3 2106.3,1670.8 2105,1663.7 2102,1667 2098.7,1667.5 2096.3,1671.3 2092.5,1673.7 2088.3,1673.3 2085.3,1670 2084.2,1664.7 2082,1667.5 2078,1668.3 2074.2,1667.5 2070,1668.3 2067,1670 2065.3,1675 2060.8,1676.7 2057,1675.8 2054.2,1671.7 2053.3,1667.5 2048,1666.7 2045,1669.2 2040.8,1670.8 2037.5,1673.3 2032.5,1674.2 2029.2,1672.5 2025,1672 2022.5,1671.7 2019.2,1670 2017.5,1674.2 2014.2,1676.7 2010.3,1677 2007.5,1675 2005.3,1670.8 2004.2,1673.3 2002.5,1677.5 1999.2,1680.3 1994.7,1680.8 1990.8,1679.2 1988.3,1678 1983.3,1678.3 1980,1675.8 1975.8,1675.8 1970.8,1676.7 1967.5,1675.8 1963.7,1674.2 1960.8,1668.3 1958,1665 1955.8,1660.8 1951.7,1660.8 1950.3,1663.3 1947.5,1666.7 1944.2,1668.3 1941.7,1672.5 1937.5,1674.7 1933.3,1673.7 1930.8,1670 1929.2,1662.5 1928,1666.7 1925,1670 1920,1671.3 1915.3,1670.8 1914.2,1675.8 1910.8,1678.7 1905.8,1678.7 1903,1676.3 1902,1673.3 1900,1671.7 1895.8,1671.7 1893,1670 1891.3,1666.7 1890,1653.7 1887,1652 1884.2,1648.3 1882.5,1643.3 1880.8,1648.7 1877.5,1651.3 1873.3,1651.3 1870.3,1648.3 1868.7,1642.5 1865.3,1638.3 1864.2,1635.3 1859.7,1634.7 1856.7,1632.5 1855.3,1628.3 1854.2,1617.5 1851.7,1616.7 1846.7,1618 1843,1616.7 1840.8,1613.3 1840,1598.3 1837.5,1596.7 1835.8,1594.2 1832,1595.8 1831.3,1611.7 1829.2,1615 1825.8,1615.8 1823.7,1617.5 1820.8,1621.3 1820,1632.5 1818,1635.8 1814.7,1636.7 1813.7,1642.5 1812,1645 1808,1645.8 1806.7,1654.2 1805.3,1659.7 1799.2,1661.7 1795,1662 1792.5,1663.3 1788.3,1665.8 1784.2,1665 1781.3,1662 1779.2,1657.5 1775,1656.7 1771.7,1657 1768.3,1655 1767,1646.3 1765,1645 1762.5,1644.2 1758.3,1645.8 1753.7,1645.3 1750.8,1641.7 1749.2,1635.8 1745.3,1635 1742.5,1631.7 1739.2,1628.3 1735.3,1628 1732.5,1625 1731.3,1615.8 1729.2,1613.3 1725,1611.7 1724.2,1608.7 1721.7,1605.8 1720.3,1597 1717.5,1596.3 1714.7,1593.3 1713.7,1586.7 1712,1583 1708.3,1582 1704.2,1582.5 1700,1583.3 1699.2,1593.3 1697.5,1600.8 1694.2,1605 1693,1610.8 1690.8,1613 1687,1613.7 1684.2,1611.7 1681.7,1611.3 1675,1611.7 1670,1613.3 1667.5,1617.5 1663.7,1618.7 1661.7,1620.8 1657.5,1622.5 1652.5,1622 1645,1622.5 1638.7,1622 1636.7,1624.2 1633.3,1625.3 1630.8,1626.3 1628.3,1629.2 1625,1630.3 1621.7,1632.5 1617.5,1633 1614.2,1631.7 1611.3,1628.7 1608.3,1626.7 1607.5,1633.7 1604.2,1636.7 1599.2,1637 1595.8,1634.2 1595,1628.3 1591.7,1627.5 1589.2,1625.8 1586.3,1628 1582.5,1630 1579.2,1630 1575.8,1627.5 1575,1622.5 1573.3,1621.7 1570,1625 1569.7,1630 1568.3,1636.7 1565,1639.7 1560.8,1639.7 1557.5,1636.7 1555.3,1633 1553.3,1633.3 1550,1636.3 1545.8,1636.7 1543,1634.2 1541.7,1626.7 1540.8,1618 1537.5,1616.7 1535,1615 1531.7,1614.7 1528.7,1611.7 1527.5,1601.7 1525.8,1597.5 1523.7,1591.7 1521.7,1590.3 1519.2,1587.5 1518,1576.7 1514.7,1573.3 1513.7,1560 1513,1545.8 1511.7,1541.7 1510,1535 1509.2,1525 1508.3,1513.3 1506.7,1508.3 1502,1503.3 1498.3,1500.8 1495.8,1498 1493.7,1499.2 1492.5,1505 1491.3,1515 1489.2,1518.3 1487.5,1531.7 1486.7,1545 1485.3,1553.3 1484.2,1561.7 1480.8,1563.3 1478.7,1565 1477.5,1571.7 1475.3,1575 1474.2,1583.3 1471.7,1585.8 1468.3,1586.7 1467.5,1595.8 1467,1610 1465,1613 1460.8,1614.2 1457.5,1613 1455,1609.2 1453.3,1611.7 1450.8,1615.3 1446.7,1616.7 1443,1615.8 1442,1620.8 1440,1625 1436.7,1625.8 1432,1626.7 1430.8,1631.7 1428.3,1635.8 1425,1636.7 1422.5,1635.8 1419.7,1633.3 1416.3,1634.2 1415.3,1643.7 1413,1646.7 1409.2,1648 1406.3,1645.8 1404.2,1643 1401.7,1644.2 1398,1643.7 1395,1641.7 1394.2,1630 1393,1635 1389.7,1638 1385.3,1638.3 1382.5,1637 1381.3,1639.7 1378,1642.5 1375.3,1644.2 1374.2,1652.5 1370.8,1655.8 1365.3,1655.3 1362.5,1652.5 1361.7,1642.5 1358.7,1640.3 1356.7,1636.3 1350.3,1636.3 1349.7,1638.7 1346.3,1642 1342.5,1642.5 1340,1640 1336.7,1639.7 1333.7,1636.7 1332.5,1632.5 1328.7,1631.3 1326.3,1627.5 1325,1630.8 1321.7,1633.7 1316.7,1633.7 1314.2,1630.8 1313.3,1620 1312.5,1605.8 1309.7,1603 1308.7,1596.7 1308,1587.5 1304.2,1587.5 1300.8,1586.3 1298,1582.5 1296.7,1576.7 1295,1570 1293.3,1561.7 1290.8,1555.8 1288,1552 1285.3,1538.3 1284.2,1534.2 1280,1530 1278.7,1513.3 1277.5,1500.8 1275.3,1491.7 1274.7,1486.3 1271.7,1485.3 1269.7,1483.3 1268.7,1470 1268,1456.7 1264.7,1453.3 1263.3,1440 1261.7,1426.7 1260.3,1415 1259.2,1400 1258,1386.3 1255.8,1385.3 1253.3,1382.5 1252,1371.7 1250.8,1367 1247.5,1365.8 1244.7,1362.5 1242.5,1358.3 1241.7,1353.3 1238.3,1355 1234.7,1357.5 1231.7,1356.7 1229.2,1354.2 1226.3,1352.5 1225.3,1360 1224.2,1364.2 1220.3,1367 1219.7,1376.7 1218.7,1391.7 1216.7,1394.2 1212,1395.3 1210.8,1413.3 1210,1431.7 1209.2,1447.5 1204.2,1450.3 1202,1450 1200.8,1458.3 1200,1470 1198.7,1475 1197.5,1481.3 1194.2,1482.5 1193,1490 1190.8,1492.5 1189.7,1498 1188.3,1506.7 1187,1518.3 1185.8,1524.7 1183,1528.3 1182,1538.3 1179.2,1540.8 1175,1541.7 1174.2,1546.7 1173,1556.7 1172,1572.5 1170,1576.7 1166.7,1578.7 1163.3,1578.3 1162.5,1594.2 1160.3,1598.3 1155.8,1600.3 1150,1599.7 1146.7,1595.8 1145.3,1592.5 1143.7,1598.3 1140.8,1600.8 1140,1605.8 1137.5,1609.2 1134.2,1610 1133.3,1615 1130.8,1619.2 1127.5,1620.8 1125,1619.2 1122.5,1619.2 1120.8,1614.7 1119.2,1614.2 1117.5,1625 1115.3,1631.7 1111.7,1634.7 1107.5,1633.7 1103.7,1630.3 1102.5,1633.7 1099.2,1636.7 1094.7,1637 1091.7,1634.2 1090.8,1630.3 1085.3,1628 1083,1625 1079.7,1628.3 1075.8,1629.7 1072.5,1628 1070.3,1624.7 1065.3,1624.7 1063.7,1628 1060,1630.8 1055.3,1630.3 1052,1625 1050.3,1614.2 1049.2,1604.2 1045.8,1603.7 1042.5,1600.3 1040.8,1593.3 1039.2,1592.5 1035,1588.7 1033.7,1583.3 1032.5,1578.3 1031.3,1580.8 1029.2,1584.2 1024.2,1585.3 1018.3,1586.7 1015,1585.3 1012.5,1580.8 1011.7,1565.8 1008.7,1564.7 1004.2,1560 1003.3,1555.8 1001.7,1563.3 999.2,1568.3 998,1580 997,1590 993.3,1593 989.2,1593 985.3,1589.2 984.7,1583 982,1580.8 980.8,1577.5 977,1577.5 975.8,1589.2 974.7,1597 971.3,1600.8 970.3,1608.3 967.5,1610.8 964.2,1611.3 959.2,1609.7 958,1615.8 954.2,1619.2 950,1619.2 946.7,1616.3 945.8,1610.3 937,1610.8 935.8,1615 931.7,1618.3 925.8,1618 921.3,1618.7 920.3,1625.8 917.5,1629.2 913.3,1630 909.2,1628.3 906.7,1625.3 902.5,1625 899.7,1622.5 898.7,1613 893.3,1613.7 892.5,1623.3 890.8,1630 887.5,1632.5 883.7,1633 880.3,1630.3 878.7,1625 878,1615 875.8,1617 871.7,1619.7 868.3,1618.7 865.8,1616.3 862.5,1618 857,1618.3 855.8,1626.7 854.7,1636.7 851.7,1639.7 848.7,1640.8 846.7,1638.7 844.2,1639.7 838.7,1639.7 835.3,1636.7 834.2,1620 833.3,1614.2 829.2,1612.5 826.3,1609.2 825,1600.8 820.8,1603.3 819.2,1606.7 815.8,1609.2 812.5,1609.2 809.2,1606.7 806.3,1601.7 805,1591.7 803.7,1580 801.3,1578.3 798.3,1575 794.2,1575 793,1576.7 790.8,1581.3 788.3,1584.2 785.8,1589.2 781.7,1593.3 777,1597.5 775.3,1602.5 773.7,1611.7 772.5,1622 769.2,1625.3 762.5,1625 760,1626.3 758.7,1635 755.8,1638 751.3,1638.3 749.7,1642.5 745.8,1645.3 741.3,1645 738.7,1642.5 737,1633.3 735.3,1630.8 733,1628.7 732,1636.3 729.7,1639.2 725.8,1640.3 724.2,1639.2 721.3,1637.5 720.8,1640 719.2,1644.2 715,1647 703.3,1646.7 699.2,1644.2 697,1642.5 694.2,1643.3 690,1643.7 686.7,1640.8 685.8,1630 684.7,1627.5 683,1630.8 681.7,1634.2 677.5,1637.5 673.3,1637.5 668.7,1633.7 666.7,1629.7 665,1630.8 663.3,1640 660.8,1643.7 656.7,1644.2 653,1641.7 651.3,1635 650,1625.3 648.3,1624.7 645.8,1621.7 644.2,1614.7 642.5,1613.3 640.8,1610 640,1604.2 635.8,1606.3 632.5,1605.8 628.7,1603.3 626.3,1600 625.3,1584.2 623.3,1576.7 621.7,1570.8 617.5,1571.7 614.2,1571.3 611.7,1568.3 610.3,1561.7 607.5,1559.2 605.3,1551.7 603.3,1548.3 601.7,1543.3 600,1529.2 598,1526.7 596.7,1516.7 595.3,1503.3 594.2,1494.2 590.8,1491.7 590,1476.7 589.2,1463.3 587.5,1457.5 585.8,1453.3 585.3,1430 584.7,1423.3 584.2,1396.7 581.7,1393.3 578.7,1391.7 578,1376.7 577,1360 576.3,1346.7 575.3,1340 574.2,1320 572.5,1315.8 571.3,1310 569.7,1293.3 568.7,1276.7 568,1263.3 567.5,1250 566.7,1245 564.7,1241.7 563.7,1232.5 562,1235 560.8,1241.7 558,1243.3 557,1271.7 556.3,1286.7 555.3,1296.7 554.2,1320 552,1322.5 550.8,1328.3 549.2,1346.7 548.7,1371.7 547.5,1382.5 545.3,1388.3 544.2,1400 543.7,1419.2 540,1422.5 539.2,1423.3 538,1436.7 537,1450 535.8,1463.3 534.2,1475 532,1490 530.8,1498.3 527,1501.7 525,1507.5 521.3,1510.8 519.7,1521.7 517.5,1537.5 515,1540.8 513.7,1550 511.7,1556.7 509.2,1563.3 506.7,1570.8 502.5,1573.3 501.3,1595 500,1599.2 500,1599.2 497.5,1601.3 493.3,1601.3 490,1598.3 487.5,1593.7 485.3,1591.7 481.7,1591.7 477.5,1594.7 473.3,1594.7 470.3,1592.5 468,1584.2 466.7,1576.7 463.3,1575 461.7,1570.8 458,1566.7 455.8,1546.7 454.2,1526.7 453,1510 452.5,1460 452,1438.7 448.3,1437.5 446.7,1434.2 445,1423.3 443.7,1411.7 442.5,1371.7 442,1335.8 440,1332.5 439.7,1344.2 438,1346.7 437.5,1368.3 436.3,1400 435.3,1436.7 432.5,1441.7 431.7,1460 430.3,1475 425.8,1478.3 425,1486.7 423.3,1494.2 420,1497.5 418.7,1506.7 415,1510.3 410,1509.7 407.5,1505.8 404.2,1505 400.8,1501.7 398.7,1488.3 396.3,1483.3 394.2,1475 392.5,1460 390.8,1450 388.3,1445 386.7,1435 385.8,1420 384.2,1415.8 381.7,1421.7 380.8,1440 379.7,1443.3 378.3,1460 377,1476.7 375.8,1493.3 374.7,1513.3 373.7,1528.3 371.7,1539.2 368.3,1545 365.3,1548.3 364.7,1572 362.5,1575 359.2,1575.8 353.3,1577 350.8,1586.7 348.7,1603.3 347.5,1617.5 343.7,1621.7 342.5,1629.2 339.2,1631.3 335,1631.3 331.7,1628.7 329.7,1625 328.3,1626.7 324.2,1626.7 320.8,1623.3 319.2,1619.2 315,1615 311.3,1611.7 309.7,1600 307.5,1595 305,1584.2 302,1581.7 300.8,1566.7 299.7,1546.7 296.7,1540 294.7,1525 293,1506.7 291.3,1506.7 290,1523.3 285.8,1526.7 282.5,1532 279.7,1535 277,1543.3 275,1558.3 274.2,1572.5 271.7,1575 270,1583.3 268.7,1590 265,1593.3 260,1593.3 257.5,1590 255,1584.2 253.7,1592.5 250,1595.3 245.8,1595.3 242.5,1591.7 241.7,1583.3 240,1578.3 237.5,1573.3 236.3,1563.3 233.3,1562.5 230.8,1563.7 221.7,1563.3 213.3,1563.3"/>
</g>
<g fill="#000" shape-rendering="crispEdges">
<path d="M312,1700 H322 V1730.0 A5.0,5.0 0 0 1 312,1730.0 Z"/>
<path d="M438,1700 H448 V1715.0 A5.0,5.0 0 0 1 438,1715.0 Z"/>
<path d="M563,1700 H573 V1730.0 A5.0,5.0 0 0 1 563,1730.0 Z"/>
<path d="M688,1700 H698 V1715.0 A5.0,5.0 0 0 1 688,1715.0 Z"/>
<path d="M813,1700 H823 V1730.0 A5.0,5.0 0 0 1 813,1730.0 Z"/>
<path d="M938,1700 H948 V1715.0 A5.0,5.0 0 0 1 938,1715.0 Z"/>
<path d="M1063,1700 H1073 V1730.0 A5.0,5.0 0 0 1 1063,1730.0 Z"/>
<path d="M1188,1700 H1198 V1715.0 A5.0,5.0 0 0 1 1188,1715.0 Z"/>
<path d="M1314,1700 H1324 V1730.0 A5.0,5.0 0 0 1 1314,1730.0 Z"/>
<path d="M1439,1700 H1449 V1715.0 A5.0,5.0 0 0 1 1439,1715.0 Z"/>
<path d="M1564,1700 H1574 V1730.0 A5.0,5.0 0 0 1 1564,1730.0 Z"/>
<path d="M1689,1700 H1699 V1715.0 A5.0,5.0 0 0 1 1689,1715.0 Z"/>
<path d="M1814,1700 H1824 V1730.0 A5.0,5.0 0 0 1 1814,1730.0 Z"/>
<path d="M1939,1700 H1949 V1715.0 A5.0,5.0 0 0 1 1939,1715.0 Z"/>
<path d="M2064,1700 H2074 V1730.0 A5.0,5.0 0 0 1 2064,1730.0 Z"/>
<path d="M2189,1700 H2199 V1715.0 A5.0,5.0 0 0 1 2189,1715.0 Z"/>
<path d="M2315,1700 H2324 V1730.5 A4.5,4.5 0 0 1 2315,1730.5 Z"/>
</g>
<g filter="url(#crisp)">
<g font-size="97">
<text x="234.0" y="1825.0"><tspan dx="3">1</tspan><tspan dx="-3">00</tspan></text>
<text x="484.4" y="1825.0"><tspan dx="3">1</tspan><tspan dx="-3">50</tspan></text>
<text x="734.8" y="1825.0">200</text>
<text x="985.1" y="1825.0">250</text>
<text x="1235.5" y="1825.0">300</text>
<text x="1485.9" y="1825.0">350</text>
<text x="1736.2" y="1825.0">400</text>
<text x="1986.6" y="1825.0">450</text>
<text x="2237.0" y="1825.0">500</text>
</g>
<g transform="translate(0,1969.9) scale(1,1.04) translate(0,-1969.9)"><text class="b" font-size="93.6"><tspan x="871.1" y="1969.9">Raman shift </tspan><tspan class="s" font-size="75" x="1432.3" y="1969.9">(</tspan><tspan x="1457.1" y="1969.9">cm</tspan><tspan font-size="56.5" x="1592.5" y="1920.5">-1</tspan><tspan class="s" font-size="75" x="1640.9" y="1969.9">)</tspan></text></g>
<text class="b" transform="translate(128.9,1110.1) rotate(-90) scale(1,1.04)" font-size="93.8">Intensity (a.u.)</text>
<line x1="1448" y1="143.2" x2="1619" y2="143.2" stroke="#0000ff" stroke-width="12.6" stroke-linecap="round" shape-rendering="crispEdges"/>
<text x="1638.3" y="168" font-size="96"><tspan dx="3">1</tspan><tspan dx="-3">T/2H-MoS</tspan><tspan font-size="56" dx="1" dy="37">2</tspan><tspan dx="0.5" dy="-37">(P)</tspan></text>
<line x1="1441.8" y1="696" x2="1613.7" y2="696" stroke="#ff0000" stroke-width="12.6" stroke-linecap="round" shape-rendering="crispEdges"/>
<text x="1632.1" y="721.4" font-size="96">2H-MoS<tspan font-size="56" dx="3" dy="36.6">2</tspan></text>
<line x1="1449.2" y1="1176" x2="1620.6" y2="1176" stroke="#000000" stroke-width="12.6" stroke-linecap="round" shape-rendering="crispEdges"/>
<text x="1641.2" y="1201" font-size="97.6"><tspan dx="3">1</tspan><tspan dx="-3">T/2H-MoS</tspan><tspan font-size="56" dx="3" dy="36.3">2</tspan><tspan dx="0" dy="-36.3">(N)</tspan></text>
<g font-size="95">
<text x="494.2" y="352.1"><tspan dx="3">1</tspan><tspan dx="-3">47</tspan></text>
<text x="734.2" y="483.9"><tspan dx="3">1</tspan><tspan dx="-3">96</tspan></text>
<text x="1163.0" y="378.0">281</text>
<text x="1454.2" y="446.0">337</text>
<text x="1648.5" y="369.5">378</text>
<text x="1165.2" y="1001.7">282</text>
<text x="1611.9" y="952.9">377</text>
<text x="1802.6" y="857.5">403</text>
<text x="489.0" y="1201.7"><tspan dx="3">1</tspan><tspan dx="-3">49</tspan></text>
<text x="724.0" y="1506.7"><tspan dx="3">1</tspan><tspan dx="-3">97</tspan></text>
<text x="1178.0" y="1291.7">283</text>
<text x="1441.7" y="1412.5">336</text>
<text x="1635.8" y="1506.7">377</text>
<text x="1823.9" y="1555.8">404</text>
</g>
</g>
<g shape-rendering="crispEdges"><line x1="1698.9" y1="395" x2="1707" y2="456" stroke="#000" stroke-width="4"/><polygon points="1696,453.5 1717.9,450 1712.2,492.8" fill="#000"/></g>
</svg>
</body></html>
